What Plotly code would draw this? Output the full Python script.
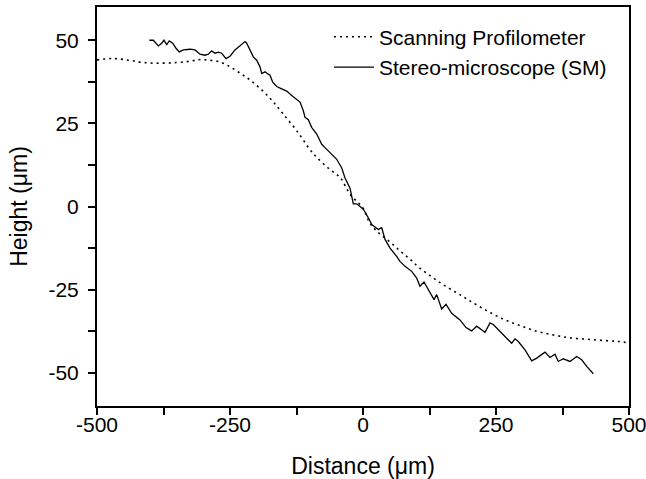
import plotly.graph_objects as go

# Scanning Profilometer (dotted)
sp_x = [-500, -470, -440, -413, -382, -350, -325, -306, -290, -269, -250, -230, -212, -190,
        -169, -150, -125, -100, -87, -65, -43, -24, 0, 13, 30, 51, 70, 88, 105, 126, 145,
        164, 185, 201, 230, 264, 295, 326, 360, 389, 420, 452, 480, 500]
sp_y = [44.1, 44.5, 44.0, 43.3, 43.1, 43.3, 43.7, 44.2, 44.0, 43.5, 42.0, 40.0, 38.0, 35.0,
        31.5, 27.8, 22.9, 17.2, 14.8, 11.5, 8.7, 3.6, -0.5, -5.0, -8.0, -10.7, -13.4, -15.8,
        -18.3, -20.8, -22.9, -24.8, -26.8, -28.4, -31.1, -33.9, -35.8, -37.5, -38.7, -39.5,
        -39.9, -40.3, -40.6, -41.0]

# Stereo-microscope (SM, solid)
sm_x = [-401.6, -394.1, -384.7, -378.4, -374.1, -369.0, -364.1, -357.7, -351.5, -345.3,
        -337.8, -325.2, -315.8, -306.4, -297.0, -290.8, -284.4, -278.2, -272.0, -265.6,
        -257.5, -250.0, -240.6, -231.2, -221.8, -218.6, -212.4, -206.2, -199.8, -193.6,
        -190.4, -184.2, -178.0, -174.8, -169.7, -162.2, -152.8, -143.4, -134.0, -124.6,
        -118.4, -112.2, -109.0, -102.8, -96.5, -87.0, -77.6, -71.4, -62.0, -49.4, -40.0,
        -33.8, -24.4, -18.2, -11.8, 0.6, 10.0, 16.4, 28.8, 35.2, 41.4, 50.8, 63.3, 69.5,
        79.0, 91.5, 100.9, 107.1, 114.7, 122.7, 133.5, 138.5, 147.9, 156.0, 166.7, 182.3,
        193.6, 204.3, 213.7, 229.3, 238.7, 244.9, 257.5, 270.1, 279.5, 285.7, 291.9, 304.5,
        317.1, 326.5, 342.1, 351.5, 360.9, 367.1, 376.5, 389.1, 401.7, 411.1, 420.5, 432.9]
sm_y = [50.0, 50.0, 48.3, 49.1, 50.0, 48.7, 49.8, 49.1, 47.6, 46.5, 47.1, 47.3, 47.1, 45.8,
        45.5, 45.8, 46.8, 46.1, 46.4, 46.1, 44.5, 45.2, 47.1, 48.3, 49.6, 49.1, 47.1, 45.0,
        44.0, 42.0, 40.0, 40.5, 39.8, 39.5, 37.4, 36.1, 35.4, 34.7, 33.4, 32.1, 31.4, 28.8,
        26.8, 26.1, 23.8, 21.8, 18.7, 17.7, 16.2, 14.2, 11.6, 8.6, 5.5, 0.8, 0.8, -0.8, -3.4,
        -5.4, -6.9, -6.4, -9.9, -12.5, -15.0, -16.5, -18.0, -19.5, -21.5, -24.0, -22.7,
        -25.0, -28.0, -26.5, -30.8, -29.4, -32.1, -34.1, -36.4, -37.4, -36.0, -37.8, -35.0,
        -35.5, -37.4, -39.6, -41.1, -39.8, -40.6, -43.1, -46.4, -45.6, -43.8, -45.4, -44.4,
        -46.6, -45.8, -46.6, -45.1, -46.1, -48.1, -50.3]

x_tickvals = [-500, -250, 0, 250, 500]
x_ticktext = ["-500", "-250", "0", "250", "500"]
y_tickvals = [-50, -25, 0, 25, 50]
y_ticktext = ["-50", "-25", "0", "25", "50"]

FONT = "Liberation Sans, Arial, sans-serif"

fig = go.Figure()
fig.add_trace(go.Scatter(x=sp_x, y=sp_y, mode="lines", name="Scanning Profilometer",
                         line=dict(color="black", width=1.6, dash="2px,4px", shape="spline")))
fig.add_trace(go.Scatter(x=sm_x, y=sm_y, mode="lines", name="Stereo-microscope (SM)",
                         line=dict(color="black", width=1.3)))

axis_common = dict(showline=True, linecolor="black", linewidth=2, mirror=True,
                   showgrid=False, zeroline=False, ticks="outside", ticklen=7,
                   tickwidth=1.5, tickcolor="black", automargin=False,
                   ticklabeloverflow="allow",
                   tickfont=dict(family=FONT, size=21, color="black"))

fig.update_xaxes(range=[-500, 500], tickmode="array", tickvals=x_tickvals, ticktext=x_ticktext,
                 ticklabelstandoff=-8,
                 minor=dict(dtick=125, tick0=0, ticks="outside", ticklen=7, tickwidth=1.5,
                            tickcolor="black"),
                 title=dict(text="Distance (\u03bcm)", font=dict(family=FONT, size=23, color="black"),
                            standoff=23),
                 **axis_common)
fig.update_yaxes(range=[-60, 60], tickmode="array", tickvals=y_tickvals, ticktext=y_ticktext,
                 ticklabelstandoff=5,
                 minor=dict(dtick=12.5, tick0=0, ticks="outside", ticklen=7, tickwidth=1.5,
                            tickcolor="black"),
                 title=dict(text="Height (\u03bcm)", font=dict(family=FONT, size=23, color="black"),
                            standoff=14),
                 **axis_common)

fig.update_layout(
    width=646, height=479,
    margin=dict(l=97, r=17, t=7, b=73),
    paper_bgcolor="white", plot_bgcolor="white",
    font=dict(family=FONT, size=21, color="black"),
    showlegend=True,
    legend=dict(x=0.436, y=0.976, xanchor="left", yanchor="top",
                bgcolor="rgba(0,0,0,0)", borderwidth=0,
                font=dict(family=FONT, size=21, color="black"),
                tracegroupgap=0, itemwidth=40),
)

fig.write_html("out.html", config={"displayModeBar": False},
               post_script="document.body.style.margin='0px';")
